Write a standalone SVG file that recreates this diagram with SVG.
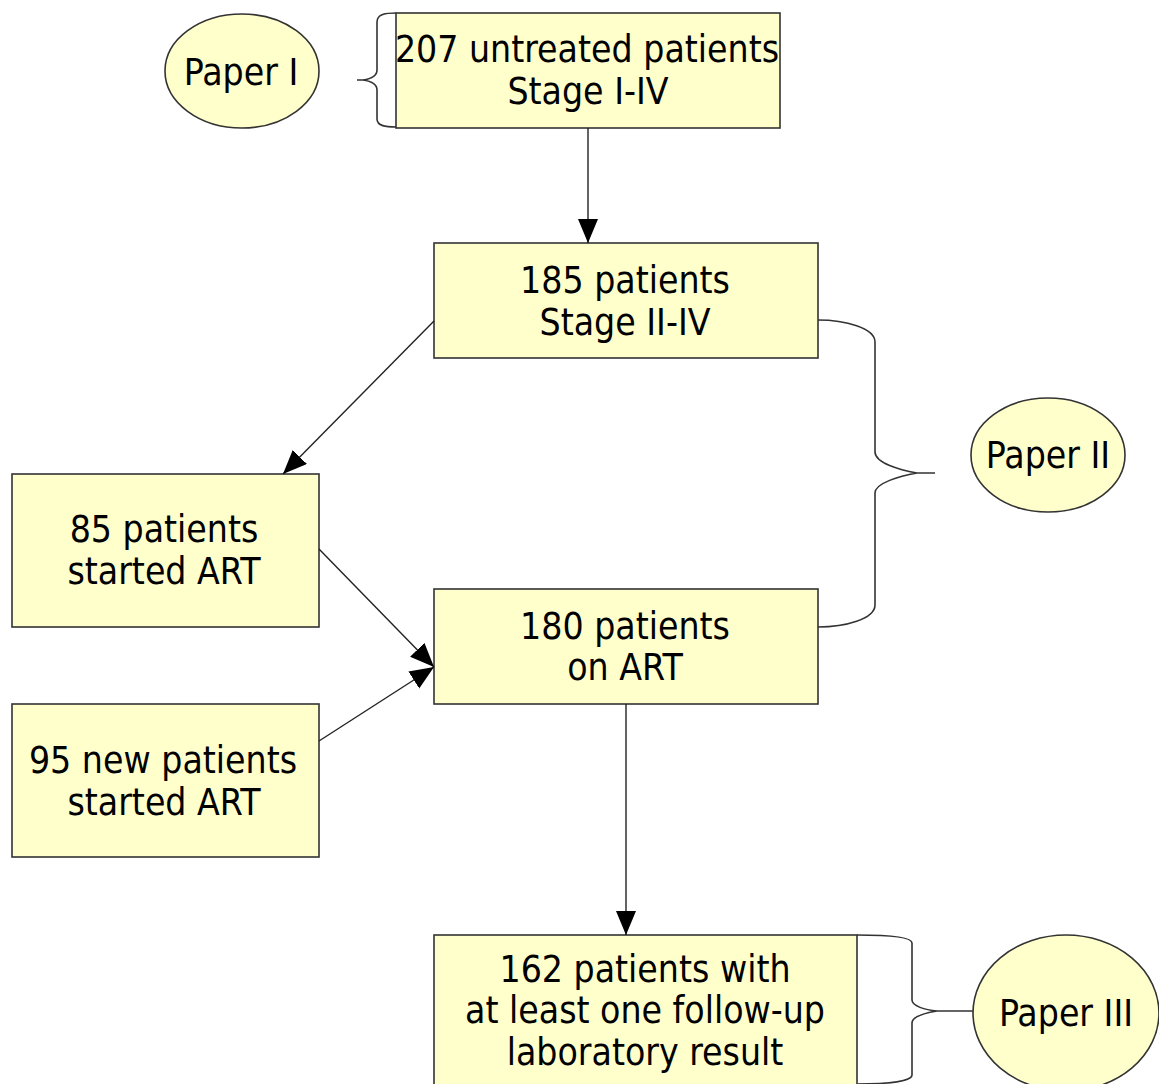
<svg xmlns="http://www.w3.org/2000/svg" width="1159" height="1084" viewBox="0 0 1159 1084">
<defs>
<marker id="ah" markerUnits="userSpaceOnUse" markerWidth="26" markerHeight="22" refX="24" refY="10" orient="auto">
<path d="M0,0 L24,10 L0,20 Z" fill="#000"/>
</marker>
<style>
.box{fill:#FFFFCC;stroke:#333;stroke-width:1.6}
.t{font-family:"DejaVu Sans Condensed","DejaVu Sans",sans-serif;font-size:37px;fill:#000;text-anchor:middle}
.c{fill:none;stroke:#222;stroke-width:1.4}
.br{fill:none;stroke:#333;stroke-width:1.6}
</style>
</defs>
<rect width="1159" height="1084" fill="#FFFFFF"/>
<g id="paper1">
<ellipse class="box" cx="242" cy="71" rx="77" ry="57"/>
<text class="t" x="241" y="85">Paper I</text>
</g>
<g id="n207">
<rect class="box" x="396" y="13" width="384" height="115"/>
<text class="t" x="587" y="62">207 untreated patients</text>
<text class="t" x="588" y="104">Stage I-IV</text>
</g>
<g id="n185">
<rect class="box" x="434" y="243" width="384" height="115"/>
<text class="t" x="625" y="293">185 patients</text>
<text class="t" x="625" y="335">Stage II-IV</text>
</g>
<g id="paper2">
<ellipse class="box" cx="1048" cy="455" rx="77" ry="57"/>
<text class="t" x="1048" y="468">Paper II</text>
</g>
<g id="n85">
<rect class="box" x="12" y="474" width="307" height="153"/>
<text class="t" x="164" y="542">85 patients</text>
<text class="t" x="164" y="584">started ART</text>
</g>
<g id="n180">
<rect class="box" x="434" y="589" width="384" height="115"/>
<text class="t" x="625" y="639">180 patients</text>
<text class="t" x="625" y="680">on ART</text>
</g>
<g id="n95">
<rect class="box" x="12" y="704" width="307" height="153"/>
<text class="t" x="163" y="773">95 new patients</text>
<text class="t" x="164" y="815">started ART</text>
</g>
<g id="n162">
<rect class="box" x="434" y="935" width="423" height="160"/>
<text class="t" x="645" y="982">162 patients with</text>
<text class="t" x="645" y="1023">at least one follow-up</text>
<text class="t" x="645" y="1065">laboratory result</text>
</g>
<g id="paper3">
<ellipse class="box" cx="1066" cy="1013" rx="93" ry="78"/>
<text class="t" x="1066" y="1026">Paper III</text>
</g>
<g id="connectors">
<line class="c" x1="588" y1="128" x2="588" y2="243" marker-end="url(#ah)"/>
<line class="c" x1="434" y1="321" x2="283" y2="474" marker-end="url(#ah)"/>
<line class="c" x1="319" y1="549" x2="434" y2="667" marker-end="url(#ah)"/>
<line class="c" x1="319" y1="741" x2="434" y2="667" marker-end="url(#ah)"/>
<line class="c" x1="626" y1="704" x2="626" y2="935" marker-end="url(#ah)"/>
<path class="br" d="M396,13 C386,13 377,14 377,22 L377,70 C377,76 370,79 363,80 L357,80 M363,80 C370,81 377,84 377,90 L377,119 C377,126 386,127 396,127"/>
<path class="br" d="M818,320 C845,320 875,328 875,342 L875,452 C875,463 900,470 917,473 L935,473 M917,473 C900,476 875,483 875,493 L875,605 C875,619 845,627 818,627"/>
<path class="br" d="M857,935 C890,935 912,937 912,943 L912,1000 C912,1006 925,1010 937,1011 L973,1011 M937,1011 C925,1013 912,1017 912,1023 L912,1075 C912,1081 890,1084 857,1084"/>
</g>
</svg>
